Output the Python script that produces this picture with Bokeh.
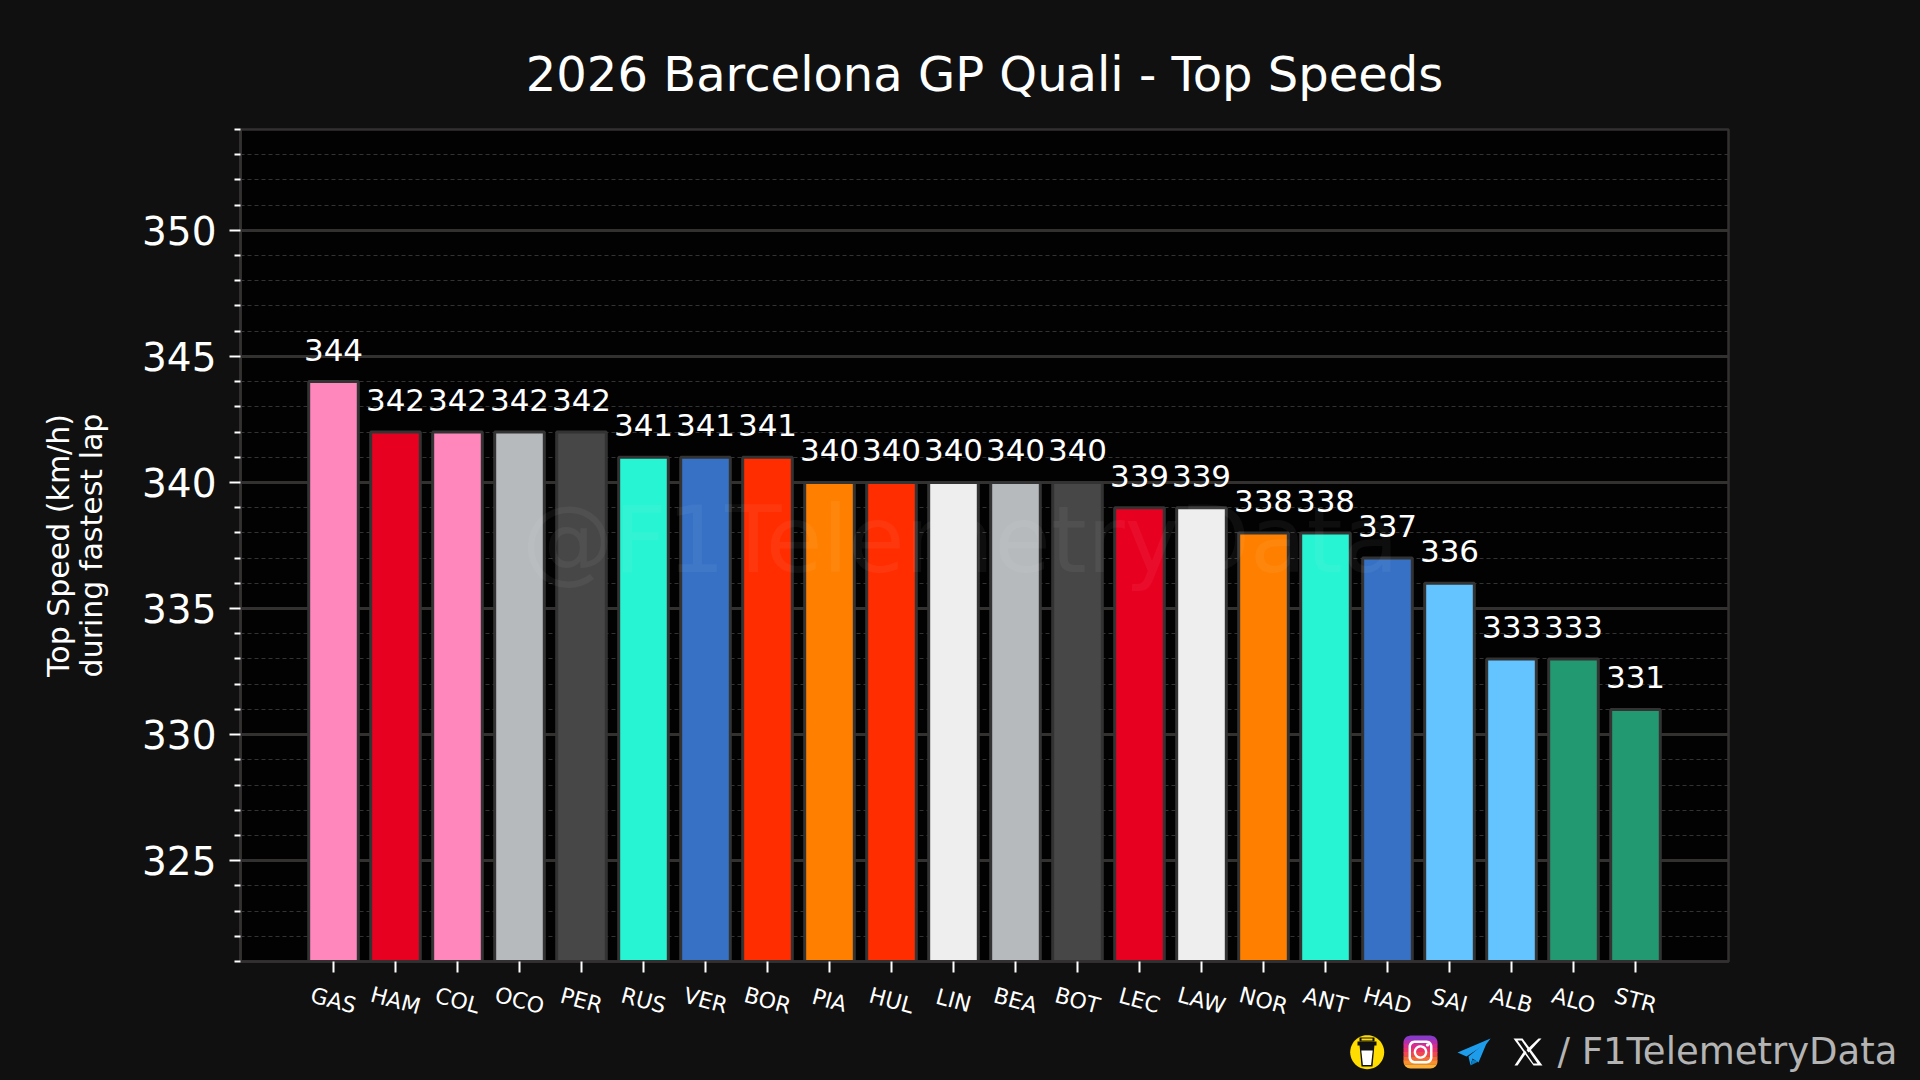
import numpy as np
from bokeh.embed import file_html
from bokeh.resources import INLINE
from bokeh.plotting import figure
from bokeh.layouts import column
from bokeh.models import ColumnDataSource, FactorRange, Range1d, FixedTicker, Label
from bokeh.core.properties import value

title = "2026 Barcelona GP Quali - Top Speeds"
ylabel = "Top Speed (km/h)\nduring fastest lap"
drivers = ["GAS","HAM","COL","OCO","PER","RUS","VER","BOR","PIA","HUL","LIN","BEA","BOT","LEC","LAW","NOR","ANT","HAD","SAI","ALB","ALO","STR"]
speeds = [344,342,342,342,342,341,341,341,340,340,340,340,340,339,339,338,338,337,336,333,333,331]
colors = ["#FF87BC","#E80020","#FF87BC","#B6BABD","#474747","#27F4D2","#3671C6","#FF2D00","#FF8000","#FF2D00","#EEEEEE","#B6BABD","#474747","#E80020","#EEEEEE","#FF8000","#27F4D2","#3671C6","#64C4FF","#64C4FF","#229971","#229971"]
major_ticks = [325,330,335,340,345,350]
minor_ticks = [v for v in range(321,355) if v not in major_ticks]
footer = "/ F1TelemetryData"
watermark = "@F1TelemetryData"

FONT = "DejaVu Sans"
BG = "#101010"
GRID = "#333030"
TOP_H = 975
LBL_H = 49

p = figure(width=1920, height=TOP_H, frame_width=1488, frame_height=832,
           x_range=FactorRange(factors=drivers, range_padding=1, range_padding_units="absolute"),
           y_range=Range1d(321, 354),
           output_backend="svg", toolbar_location=None,
           min_border_left=240, min_border_right=192, min_border_top=129, min_border_bottom=14,
           background_fill_color="#020202", border_fill_color=BG)
p.outline_line_color = GRID
p.outline_line_width = 2.5

p.title.text = title
p.title.text_color = "white"
p.title.text_font = FONT
p.title.text_font_size = "48px"
p.title.text_font_style = "normal"
p.title.align = "center"
p.title.standoff = 55

src = ColumnDataSource(dict(x=drivers, top=speeds, color=colors, label=[str(v) for v in speeds]))
p.vbar(x="x", top="top", bottom=300, width=0.8, source=src, fill_color="color",
       line_color="#333333", line_width=3)
p.text(x="x", y="top", text="label", source=src, text_color="white",
       text_font=value(FONT), text_font_size="31px", text_align="center",
       text_baseline="alphabetic", y_offset=-32)

p.xgrid.visible = False
yg = p.ygrid[0]
yg.grid_line_color = GRID
yg.grid_line_width = 3
yg.minor_grid_line_color = "#333333"
yg.minor_grid_line_width = 1
yg.minor_grid_line_dash = "4 3"

ya = p.yaxis[0]
ya.ticker = FixedTicker(ticks=major_ticks, minor_ticks=minor_ticks)
ya.axis_line_color = GRID
ya.axis_line_width = 2.5
ya.major_tick_line_color = "white"
ya.major_tick_line_width = 2
ya.major_tick_in = 0
ya.major_tick_out = 11
ya.minor_tick_line_color = "white"
ya.minor_tick_line_width = 2
ya.minor_tick_in = 0
ya.minor_tick_out = 6
ya.major_label_text_color = "white"
ya.major_label_text_font = FONT
ya.major_label_text_font_size = "39px"
ya.major_label_standoff = 13
ya.axis_label = ylabel
ya.axis_label_text_color = "white"
ya.axis_label_text_font = FONT
ya.axis_label_text_font_size = "30px"
ya.axis_label_text_font_style = "normal"
ya.axis_label_text_line_height = 0.95
ya.axis_label_standoff = 30

xa = p.xaxis[0]
xa.axis_line_color = GRID
xa.axis_line_width = 2.5
xa.major_tick_line_color = "white"
xa.major_tick_line_width = 2
xa.major_tick_in = 0
xa.major_tick_out = 11
xa.minor_tick_line_color = None
xa.major_label_text_color = None
xa.major_label_text_font_size = "0px"
xa.major_label_standoff = 0

# watermark, over the bars (centre of the window, in plot coordinates)
p.add_layout(Label(x=10.61, y=337.7, text=watermark, text_color="white", text_alpha=0.05,
                   text_font=FONT, text_font_size="92px",
                   text_align="center", text_baseline="middle", level="overlay"))

# driver codes: a strip that shares the chart's x range, centred under each tick and tilted
s = figure(width=1920, height=LBL_H, frame_width=1488, frame_height=LBL_H,
           x_range=p.x_range, y_range=Range1d(TOP_H + LBL_H, TOP_H),
           output_backend="svg", toolbar_location=None,
           min_border_left=240, min_border_right=192, min_border_top=0, min_border_bottom=0,
           x_axis_location=None, y_axis_location=None, outline_line_color=None,
           background_fill_color=BG, border_fill_color=BG)
s.grid.visible = False
s.text(x=drivers, y=[1000]*len(drivers), text=drivers, angle=-15, angle_units="deg",
       text_color="white", text_font=value(FONT), text_font_size="22px",
       text_align="center", text_baseline="middle")

# footer strip: its ranges are page pixels
f = figure(width=1920, height=1080-TOP_H-LBL_H, x_range=Range1d(0,1920), y_range=Range1d(1080, TOP_H+LBL_H),
           output_backend="svg", toolbar_location=None, min_border=0,
           x_axis_location=None, y_axis_location=None, outline_line_color=None,
           background_fill_color=BG, border_fill_color=BG)
f.grid.visible = False
f.text(x=[1557], y=[1051], text=[footer], text_color="#B4B4B4", text_font=value(FONT),
       text_font_size="37px", text_align="left", text_baseline="middle")

def poly(xs, ys, color):
    f.patch(list(map(float, xs)), list(map(float, ys)), fill_color=color, line_color=None)

def ell(cx, cy, rx, ry, n=48):
    t = np.linspace(0, 2*np.pi, n, endpoint=False)
    return cx + rx*np.cos(t), cy + ry*np.sin(t)

def round_half_width(y, x0, x1, y0, y1, r):
    inset = 0.0
    if y < y0 + r:
        d = y0 + r - y
        inset = r - np.sqrt(max(r*r - d*d, 0))
    elif y > y1 - r:
        d = y - (y1 - r)
        inset = r - np.sqrt(max(r*r - d*d, 0))
    return x0 + inset, x1 - inset

# coffee icon
poly(*ell(1366.7, 1051.7, 17, 17), "#FFDD00")
poly([1359,1374,1372,1361], [1044,1044,1066,1066], "#111111")
poly([1360.8,1372.2,1370.6,1362.4], [1050,1050,1064.5,1064.5], "white")
poly([1357,1376,1376,1357], [1041,1041,1045,1045], "#111111")
poly([1359,1374,1374,1359], [1037,1037,1041,1041], "#111111")
poly([1361,1372,1372,1361], [1038,1038,1040,1040], "#FFDD00")

# camera icon: gradient strips in a rounded square
stops = ["#8A3AC8","#B030B0","#D62D8F","#E8336B","#F0484F","#F56A3A","#F98E2F","#FCB03A"]
X0, X1, Y0, Y1, R = 1403.0, 1437.0, 1035.0, 1068.0, 7.0
n = len(stops)
for i, c in enumerate(stops):
    ya0 = Y0 + (Y1-Y0)*i/n
    yb0 = min(Y0 + (Y1-Y0)*(i+1)/n + (0.4 if i < n-1 else 0), Y1)
    ys_ = np.linspace(ya0, yb0, 8)
    lr = [round_half_width(y, X0, X1, Y0, Y1, R) for y in ys_]
    xs = [a for a, b in lr] + [b for a, b in lr][::-1]
    ys = list(ys_) + list(ys_)[::-1]
    poly(xs, ys, c)

def ring(cx, cy, ro, ri, color, n=48):
    t = np.linspace(0, 2*np.pi, n)
    xs = list(cx+ro*np.cos(t)) + list(cx+ri*np.cos(t[::-1]))
    ys = list(cy+ro*np.sin(t)) + list(cy+ri*np.sin(t[::-1]))
    poly(xs, ys, color)

def rrect(x0, y0, x1, y1, r, m=8):
    pts = []
    for (cx, cy, a0) in [(x1-r, y0+r, -90), (x1-r, y1-r, 0), (x0+r, y1-r, 90), (x0+r, y0+r, 180)]:
        for a in np.radians(np.linspace(a0, a0+90, m)):
            pts.append((cx+r*np.cos(a), cy+r*np.sin(a)))
    return [q[0] for q in pts], [q[1] for q in pts]

ox, oy = rrect(1408, 1040, 1432, 1063, 6)
ix, iy = rrect(1410.5, 1042.5, 1429.5, 1060.5, 4)
poly(ox + [ox[0]] + [ix[0]] + ix[::-1], oy + [oy[0]] + [iy[0]] + iy[::-1], "white")
ring(1420, 1051.5, 6.8, 4.4, "white")
poly(*ell(1427, 1044.5, 1.6, 1.6), "white")

# plane icon
poly([1490,1457,1466,1486], [1038,1052,1056,1043], "#1C9CEA")
poly([1490,1468,1470,1472,1478,1486], [1038,1056,1065,1058,1062,1043], "#1C9CEA")
poly([1470,1472,1478], [1065,1059,1061], "#0C7CC0")

# X icon
poly([1513,1522,1542,1533], [1038,1038,1065,1065], "white")
poly([1517,1521,1537,1533], [1040,1040,1063,1063], BG)
poly([1538,1541,1528,1526], [1038,1038,1052,1049.5], "white")
poly([1526,1524,1514,1517], [1052,1050,1065,1065], "white")

layout = column(p, s, column(f, spacing=0), spacing=0)
html = file_html(layout, INLINE)
html = html.replace("</head>", f"<style>html,body{{background:{BG};}}</style></head>", 1)
open("out.html", "w").write(html)
